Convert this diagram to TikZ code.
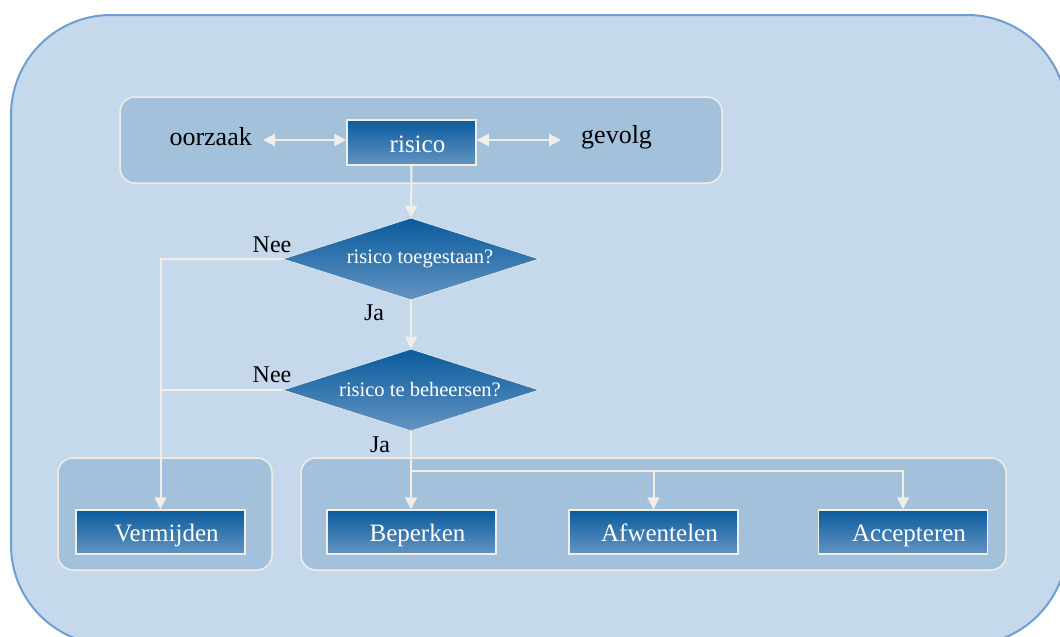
\documentclass[tikz,border=0pt]{standalone}
\usepackage{fontspec}
\setmainfont{Liberation Serif}
\usetikzlibrary{arrows.meta,shapes.geometric}
\definecolor{outerfill}{HTML}{C5D8EC}
\definecolor{outerline}{HTML}{6E9FD2}
\definecolor{panelfill}{HTML}{A4C1DC}
\definecolor{linew}{HTML}{F0EEE6}
\definecolor{boxtop}{HTML}{0A5B9D}
\definecolor{boxbot}{HTML}{6394C2}
\tikzset{
  panel/.style={rectangle, rounded corners=15, fill=panelfill, draw=linew, line width=1.5pt, inner sep=0},
  box/.style={rectangle, top color=boxtop, bottom color=boxbot, draw=linew, line width=1.5pt, text=white,
    minimum width=169, minimum height=44, inner sep=0, text height=19, text depth=0,
    font=\fontsize{25}{27}\selectfont\hspace*{12pt}},
  dia/.style={diamond, aspect=3.12, top color=boxtop, bottom color=boxbot, draw=linew, line width=0.6pt, text=white,
    minimum width=256, minimum height=82, inner sep=0, font=\fontsize{20.5}{22}\selectfont\hspace*{18pt}},
  lbl/.style={text=black, font=\fontsize{24}{26}\selectfont, inner sep=0},
  conn/.style={draw=linew, line width=2pt},
  tip/.style={-{Triangle[length=12,width=12]}},
  dtip/.style={{Triangle[length=12,width=12]}-{Triangle[length=12,width=12]}}
}
\begin{document}
\begin{tikzpicture}[x=1pt,y=-1pt]
\useasboundingbox (0,0) rectangle (1060,637);
\begin{scope}
\clip (0,0) rectangle (1060,637);
\draw[fill=outerfill, draw=outerline, line width=2pt, rounded corners=100] (11,15) rectangle (1067,645);
\end{scope}
% panels
\node[panel, minimum width=602, minimum height=86] (ptop) at (421,140) {};
\node[panel, minimum width=214, minimum height=112] (pleft) at (165,514) {};
\node[panel, minimum width=705, minimum height=112] (pright) at (653.5,514) {};
% top row
\node[box, minimum width=129, minimum height=45] (risico) at (411.5,142.5) {risico};
\node[lbl, anchor=east, font=\fontsize{26}{28}\selectfont] (oorzaak) at (252,137) {oorzaak};
\node[lbl, anchor=west, font=\fontsize{26}{28}\selectfont] (gevolg) at (581,137) {gevolg};
\coordinate (ol) at (263,140);
\coordinate (gr) at (561,140);
\draw[conn, dtip] (ol) -- (ol -| risico.west);
\draw[conn, dtip] (gr -| risico.east) -- (gr);
% diamonds
\node[dia] (d1) at (411,259) {risico toegestaan?};
\node[dia] (d2) at (411,390) {risico te beheersen?};
% bottom boxes
\node[box] (verm) at (160.5,532) {Vermijden};
\node[box] (bep) at (411.5,532) {Beperken};
\node[box] (afw) at (653.5,532) {Afwentelen};
\node[box] (acc) at (903,532) {Accepteren};
% connectors
\draw[conn, tip] (risico.south) -- (d1.north);
\draw[conn, tip] (d1.south) -- (d2.north);
\draw[conn, tip] (d1.west) -| (verm.north);
\draw[conn] (d2.west) -- (d2.west -| verm.north);
\draw[conn, tip] (d2.south) -- (d2.south |- bep.north);
\coordinate (br) at (411.5,471);
\draw[conn, tip] (br) -| (afw.north);
\draw[conn, tip] (br) -| (acc.north);
% labels
\node[lbl] (nee1) at (272,245) {Nee};
\node[lbl] (ja1) at (374,313) {Ja};
\node[lbl] (nee2) at (272,375) {Nee};
\node[lbl] (ja2) at (380,445) {Ja};
\end{tikzpicture}
\end{document}
